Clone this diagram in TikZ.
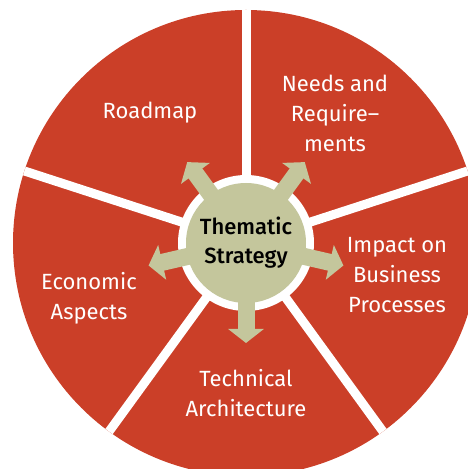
\documentclass[tikz,border=0pt]{standalone}
\usepackage{fontspec}
\setmainfont{Fira Sans}
\newfontfamily\hubfont{Fira Sans Medium}
\usetikzlibrary{arrows.meta}
\definecolor{wheelred}{HTML}{CB3F28}
\definecolor{hubgreen}{HTML}{C4C69C}

\begin{document}
\begin{tikzpicture}[x=1pt,y=1pt,
	spoke/.style={white,line width=9pt},
	fatarrow/.style={hubgreen,line width=17pt,-{Triangle[width=35pt,length=14pt]}},
	sectortext/.style={text=white,align=center,font=\fontsize{22}{30}\selectfont},
	]
	
	\useasboundingbox (0,0) rectangle (468,469);
	\clip (0,0) rectangle (468,469);
	\coordinate (c) at (246,226);
	
	\fill[wheelred] (c) circle (233);
	\foreach \a in {18,90,162,234,306}
		\draw[spoke] (c) -- ++(\a:233);
	\fill[white] (c) circle (68);
	
	\foreach \a in {54,126,193,270,347}
		\draw[fatarrow] (c) -- ++(\a:100);
	\node[circle,fill=hubgreen,minimum size=120pt,inner sep=0pt,align=center,font=\hubfont\fontsize{22}{29}\selectfont] (hub) at (c) {Thematic\\Strategy};
	
	\node[sectortext] (roadmap) at (150,356) {Roadmap};
	\node[sectortext] (needs) at (335,356) {Needs and\\Require--\\ments};
	\node[sectortext] (impact) at (397,194) {Impact on\\Business\\Processes};
	\node[sectortext] (economic) at (89,171) {Economic\\Aspects};
	\node[sectortext] (technical) at (246,76) {Technical\\Architecture};
\end{tikzpicture}
\end{document}
